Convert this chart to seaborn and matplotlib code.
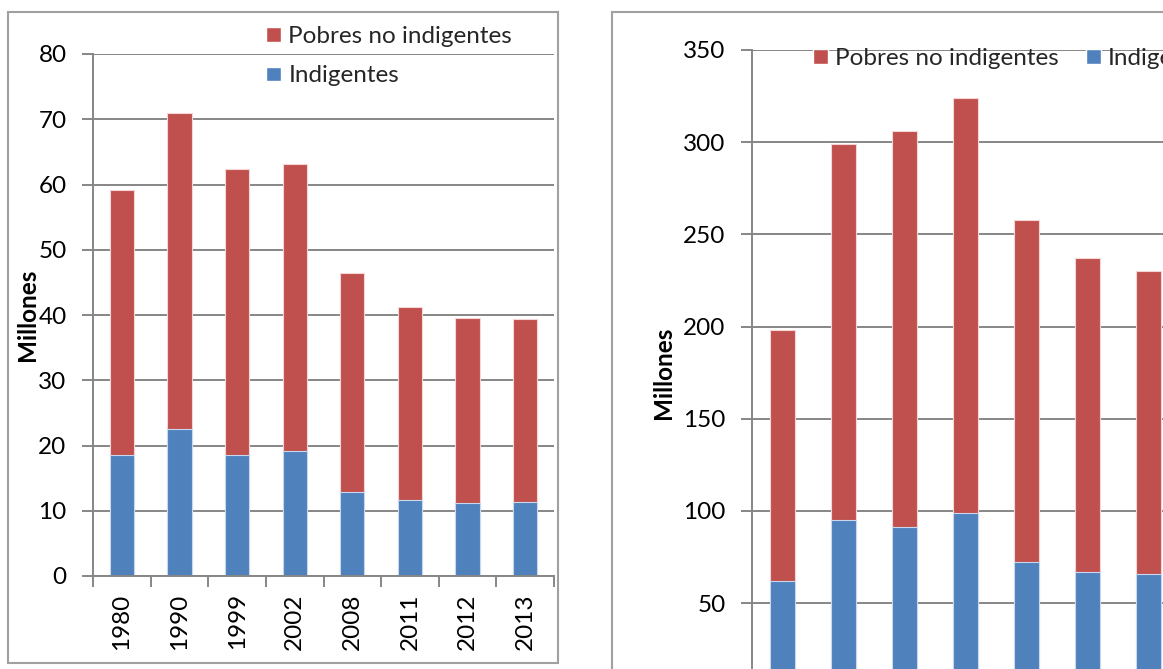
import matplotlib
matplotlib.use("Agg")
import matplotlib.pyplot as plt
import seaborn as sns
import pandas as pd
from matplotlib.patches import Rectangle, Patch

# ---------------- data ----------------
anios = ["1980", "1990", "1999", "2002", "2008", "2011", "2012", "2013"]
indigentes_izq = [18.6, 22.6, 18.6, 19.2, 12.9, 11.6, 11.2, 11.4]
pobres_no_indig_izq = [40.5, 48.4, 43.8, 44.0, 33.5, 29.6, 28.3, 28.0]
indigentes_der = [62, 95, 91, 99, 72, 67, 66, 69]
pobres_no_indig_der = [136, 204, 215, 225, 186, 170, 164, 165]
yticks_izq = [0, 10, 20, 30, 40, 50, 60, 70, 80]
yticks_der = [50, 100, 150, 200, 250, 300, 350]
series = ["Pobres no indigentes", "Indigentes"]
ylabel = "Millones"

# ---------------- style ----------------
sns.set_theme(style="white")
plt.rcParams["font.family"] = ["Lato", "DejaVu Sans"]

RED = "#C0504D"
BLUE = "#4F81BD"
GRID = "#868686"
BORDER = "#A0A0A0"
FS = 17.5

W, H = 1163, 669
fig = plt.figure(figsize=(W / 100, H / 100), dpi=100)


def fx(px):
    return px / W


def fy(py):
    return 1 - py / H


def box(x0, y0, x1, y1):
    return [fx(x0), fy(y1), fx(x1) - fx(x0), fy(y0) - fy(y1)]


def panel(rect, indig, pobres, yticks, label_x, legend_anchor, ncol, show_x):
    ax = fig.add_axes(rect)
    df = pd.DataFrame({
        "anio": anios,
        "total": [a + b for a, b in zip(indig, pobres)],
        "indig": indig,
    })
    sns.barplot(data=df, x="anio", y="total", color=RED, saturation=1,
                width=0.42, ax=ax, edgecolor="#F3D6D5", linewidth=0.8)
    sns.barplot(data=df, x="anio", y="indig", color=BLUE, saturation=1,
                width=0.42, ax=ax, edgecolor="#C9D8EC", linewidth=0.8)
    ax.set_xlim(-0.5, len(anios) - 0.5)
    ax.set_ylim(0, yticks[-1])
    ax.set_yticks(yticks)
    ax.set_yticklabels([str(t) for t in yticks])
    ax.set_axisbelow(True)
    ax.yaxis.grid(True, color=GRID, lw=1.4)
    ax.xaxis.grid(False)
    for s in ["top", "right"]:
        ax.spines[s].set_visible(False)
    for s in ["left", "bottom"]:
        ax.spines[s].set_color(GRID)
        ax.spines[s].set_linewidth(1.4)
    ax.tick_params(axis="y", left=True, direction="out", length=8, width=1.4,
                   color=GRID, pad=11, labelsize=FS, labelcolor="black")
    ax.set_xticks(range(len(anios)))
    ax.set_xticklabels(anios, rotation=90)
    ax.set_xticks([i - 0.5 for i in range(len(anios) + 1)], minor=True)
    ax.tick_params(axis="x", which="major", bottom=True, length=0, pad=12.5,
                   labelsize=FS, labelcolor="black", labelbottom=show_x)
    ax.tick_params(axis="x", which="minor", bottom=True, direction="out",
                   length=8, width=1.4, color=GRID)
    ax.set_xlabel("")
    ax.set_ylabel(ylabel, fontsize=FS, fontweight="bold", color="black")
    ax.yaxis.set_label_coords(label_x, 0.5)
    handles = [Patch(facecolor=RED, label=series[0]),
               Patch(facecolor=BLUE, label=series[1])]
    ax.legend(handles=handles, loc="upper left", bbox_to_anchor=legend_anchor,
              bbox_transform=fig.transFigure, frameon=False, ncol=ncol,
              fontsize=FS, handlelength=0.62, handleheight=0.55,
              handletextpad=0.3, labelspacing=0.76, columnspacing=1.1,
              borderpad=0, borderaxespad=0)
    return ax


# panel borders
fig.add_artist(Rectangle((fx(8), fy(663)), fx(558) - fx(8), fy(12) - fy(663),
                         transform=fig.transFigure, fill=False,
                         edgecolor=BORDER, lw=1.5))
fig.add_artist(Rectangle((fx(612), fy(760)), fx(1400) - fx(612), fy(12) - fy(760),
                         transform=fig.transFigure, fill=False,
                         edgecolor=BORDER, lw=1.5))

panel(box(93, 54, 554, 576), indigentes_izq, pobres_no_indig_izq, yticks_izq,
      (39 - 93) / 461, (fx(266), fy(26)), 1, True)
panel(box(752, 50, 1240, 695.2), indigentes_der, pobres_no_indig_der, yticks_der,
      (675 - 752) / 488.0, (fx(813), fy(48)), 2, False)

fig.savefig("out.png", dpi=100)
